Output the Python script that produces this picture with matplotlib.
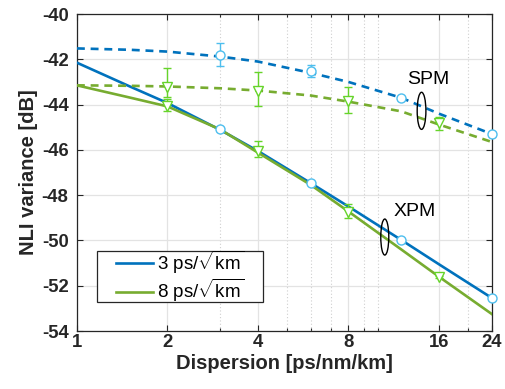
import numpy as np
import matplotlib
matplotlib.use("Agg")
import matplotlib.pyplot as plt
from matplotlib.patches import Ellipse, Rectangle
from matplotlib.ticker import FixedLocator, NullFormatter

plt.rcParams["font.family"] = ["Liberation Sans", "DejaVu Sans"]
plt.rcParams["mathtext.fontset"] = "custom"
plt.rcParams["mathtext.rm"] = "Liberation Sans"
plt.rcParams["mathtext.it"] = "Liberation Sans:italic"
plt.rcParams["axes.unicode_minus"] = False

# analytic curves, dispersion grid [ps/nm/km]
disp = [1, 1.5, 2, 3, 4, 6, 8, 12, 16, 24]
xpm_3 = [-42.15, -43.2, -43.93, -45.12, -46.05, -47.47, -48.5, -49.98, -51.05, -52.54]
xpm_8 = [-43.15, -43.69, -44.08, -45.1, -46.12, -47.55, -48.72, -50.4, -51.6, -53.25]
spm_3 = [-41.52, -41.58, -41.66, -41.88, -42.1, -42.6, -43.0, -43.7, -44.4, -45.3]
spm_8 = [-43.15, -43.17, -43.2, -43.28, -43.38, -43.6, -43.87, -44.3, -44.88, -45.65]

# simulation points with error bars
d_3 = [3, 6, 12, 24]
sim_spm_3 = [-41.8, -42.51, -43.72, -45.3]
err_spm_3 = [0.5, 0.26, 0.06, 0.08]
sim_xpm_3 = [-45.1, -47.47, -49.98, -52.54]
err_xpm_3 = [0.05, 0.05, 0.06, 0.06]

d_8 = [2, 4, 8, 16]
sim_spm_8 = [-43.22, -43.38, -43.86, -44.83]
lo_spm_8 = [0.45, 0.7, 0.5, 0.29]
hi_spm_8 = [0.85, 0.83, 0.62, 0.29]
sim_xpm_8 = [-44.05, -46.06, -48.73, -51.6]
lo_xpm_8 = [0.25, 0.25, 0.27, 0.05]
hi_xpm_8 = [0.3, 0.45, 0.33, 0.05]

x_ticks = [1, 2, 4, 8, 16, 24]
x_minor = [3, 5, 6, 7, 9, 10, 20]

COL_B = "#0072BD"
COL_G = "#77AC30"
MK_B = "#4DBEEE"
MK_G = "#66D42A"

fig = plt.figure(figsize=(5.06, 3.89), dpi=100)
ax = fig.add_axes([0.152, 0.149, 0.820, 0.815])

lw = 1.9
ax.plot(disp, xpm_3, color=COL_B, lw=lw, label="3 ps/$\\sqrt{\\mathrm{km}}$", zorder=3)
ax.plot(disp, xpm_8, color=COL_G, lw=lw, label="8 ps/$\\sqrt{\\mathrm{km}}$", zorder=3)
ax.plot(disp, spm_3, color=COL_B, lw=lw, ls=(0, (3.0, 2.2)), zorder=3)
ax.plot(disp, spm_8, color=COL_G, lw=lw, ls=(0, (3.0, 2.2)), zorder=3)

eb = dict(linestyle="none", capsize=3.2, elinewidth=1.0, capthick=1.0,
          markerfacecolor="white", markeredgewidth=1.0, zorder=4)
ax.errorbar(d_3, sim_spm_3, yerr=err_spm_3, marker="o", ms=6.5, color=MK_B, clip_on=False, **eb)
ax.errorbar(d_3, sim_xpm_3, yerr=err_xpm_3, marker="o", ms=6.5, color=MK_B, clip_on=False, **eb)
ax.errorbar(d_8, sim_spm_8, yerr=[lo_spm_8, hi_spm_8], marker="v", ms=7, color=MK_G, **eb)
ax.errorbar(d_8, sim_xpm_8, yerr=[lo_xpm_8, hi_xpm_8], marker="v", ms=7, color=MK_G, **eb)

# ── axes ──────────────────────────────────────────────────────────────
ax.set_xscale("log")
ax.set_xlim(1, 24)
ax.set_ylim(-54, -40)
ax.xaxis.set_major_locator(FixedLocator(x_ticks))
ax.xaxis.set_minor_locator(FixedLocator(x_minor))
ax.xaxis.set_minor_formatter(NullFormatter())
ax.set_xticklabels([str(t) for t in x_ticks])
ax.set_yticks(np.arange(-54, -39, 2))
ax.tick_params(which="both", direction="in", top=True, right=True,
               labelsize=13.3, colors="#262626", width=0.8)
ax.tick_params(which="major", length=4)
ax.tick_params(which="minor", length=2.5)
ax.tick_params(axis="x", which="major", pad=1.8)
ax.tick_params(axis="y", which="major", pad=6)
for lab in ax.get_xticklabels() + ax.get_yticklabels():
    lab.set_fontweight("bold")
ax.grid(which="major", color="#E3E3E3", lw=0.9, zorder=0)
ax.grid(which="minor", axis="x", color="#CFCFCF", lw=0.8, ls=(0, (1, 2)), zorder=0)
for s in ax.spines.values():
    s.set_color("#262626")
    s.set_linewidth(0.9)
ax.set_axisbelow(True)

ax.set_xlabel("Dispersion [ps/nm/km]", fontsize=14.5, fontweight="bold",
              labelpad=2.5, color="#262626")
ax.set_ylabel("NLI variance [dB]", fontsize=14.5, fontweight="bold",
              labelpad=3, color="#262626")

# ── SPM / XPM annotations with ellipses ───────────────────────────────
ax.text(0.846, 0.792, "SPM", transform=ax.transAxes, fontsize=14, ha="center", va="center")
ax.add_patch(Ellipse((0.8306, 0.6946), 0.021, 0.117, transform=ax.transAxes,
                     fill=False, ec="black", lw=1.0, zorder=5))
ax.text(0.814, 0.376, "XPM", transform=ax.transAxes, fontsize=14, ha="center", va="center")
ax.add_patch(Ellipse((0.742, 0.2965), 0.0193, 0.1136, transform=ax.transAxes,
                     fill=False, ec="black", lw=1.0, zorder=5))

# legend: MATLAB-style box drawn separately, entries placed inside
ax.add_patch(Rectangle((0.049, 0.0905), 0.400, 0.1628, transform=ax.transAxes,
                       fc="white", ec="#262626", lw=0.9, zorder=6))
leg = ax.legend(loc="center left", bbox_to_anchor=(0.0933, 0.172), fontsize=13.5,
                frameon=False, handlelength=1.99, handletextpad=0.21, borderpad=0,
                labelspacing=0.05, borderaxespad=0)
leg.set_zorder(7)

fig.savefig("out.png", dpi=100)
